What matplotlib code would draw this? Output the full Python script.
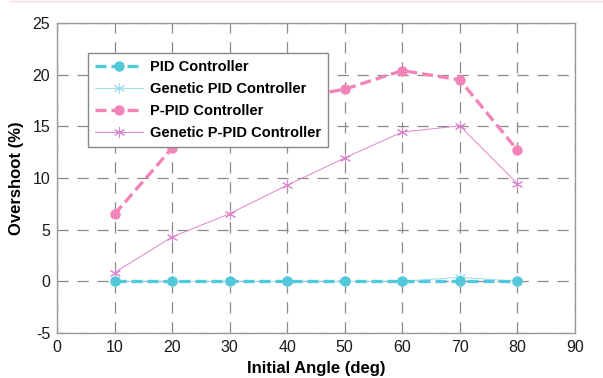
import matplotlib
matplotlib.use("Agg")
import matplotlib.pyplot as plt
from matplotlib.lines import Line2D

angles = [10, 20, 30, 40, 50, 60, 70, 80]
pid = [0, 0, 0, 0, 0, 0, 0, 0]
genetic_pid = [0, 0, 0, 0, 0, 0, 0.4, 0]
ppid = [6.5, 12.9, 15.8, 17.6, 18.6, 20.4, 19.5, 12.7]
genetic_ppid = [0.85, 4.3, 6.55, 9.3, 11.95, 14.45, 15.05, 9.45]

labels = ["PID Controller", "Genetic PID Controller",
          "P-PID Controller", "Genetic P-PID Controller"]
xticks = [0, 10, 20, 30, 40, 50, 60, 70, 80, 90]
yticks = [-5, 0, 5, 10, 15, 20, 25]

plt.rcParams['font.family'] = ['Liberation Sans', 'DejaVu Sans']
plt.rcParams['axes.unicode_minus'] = False

fig = plt.figure(figsize=(6.03, 3.78), dpi=100)
ax = fig.add_axes([0.0945, 0.119, 0.859, 0.820])

c_pid = '#52C8DA'
c_gpid = '#9ADDE8'
c_ppid = '#F284BA'
c_gppid = '#DA86CE'

ax.plot(angles, genetic_ppid, color=c_gppid, lw=0.7, marker=(6, 2, 0),
        ms=8, mew=0.7, label=labels[3], zorder=3)
ax.plot(angles, ppid, color=c_ppid, lw=2.4, ls=(0, (3.3, 1.5)), marker='o',
        ms=6.5, label=labels[2], zorder=4)
ax.plot(angles, genetic_pid, color=c_gpid, lw=0.7, marker=(6, 2, 0),
        ms=8, mew=0.7, label=labels[1], zorder=3)
ax.plot(angles, pid, color=c_pid, lw=2.4, ls=(0, (3.3, 1.5)), marker='o',
        ms=6.5, label=labels[0], zorder=4)

ax.set_xlim(0, 90)
ax.set_ylim(-5, 25)
ax.set_xticks(xticks)
ax.set_yticks(yticks)
ax.tick_params(axis='both', labelsize=11.5, length=0, pad=5, colors='#1a1a1a')
ax.grid(True, color='#8a8a8a', ls=(0, (9, 7)), lw=0.9)
for s in ax.spines.values():
    s.set_color('#999999')
    s.set_linewidth(1.0)

ax.set_xlabel('Initial Angle (deg)', fontsize=12, fontweight='bold', labelpad=4)
ax.set_ylabel('Overshoot (%)', fontsize=12, fontweight='bold', labelpad=6)

handles, lbls = ax.get_legend_handles_labels()
order = [3, 2, 1, 0]
leg = ax.legend([handles[i] for i in order], [lbls[i] for i in order],
                loc='upper left', bbox_to_anchor=(0.060, 0.903),
                prop={'weight': 'bold', 'size': 10.5}, frameon=True,
                fancybox=False, edgecolor='#888888', framealpha=1,
                handlelength=3.3, borderpad=0.45, labelspacing=0.56,
                handletextpad=0.5, borderaxespad=0)
leg.get_frame().set_linewidth(1.0)

fig.add_artist(Line2D([0.018, 1.0], [0.998, 0.998], color='#F5DADF', lw=1.0,
                      transform=fig.transFigure))

fig.savefig('out.png', dpi=100)
